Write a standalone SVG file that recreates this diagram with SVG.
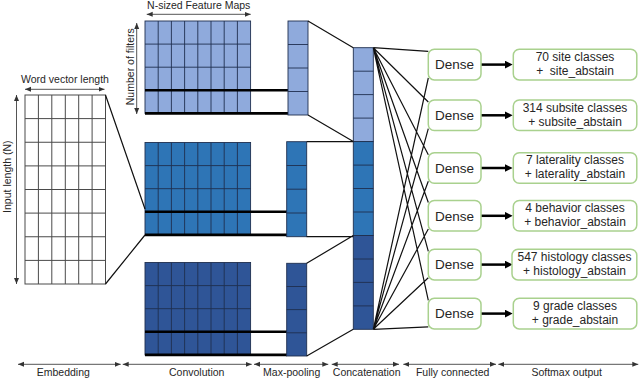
<svg xmlns="http://www.w3.org/2000/svg" width="640" height="381" viewBox="0 0 640 381">
<style>
text{font-family:"Liberation Sans",Arial,sans-serif;fill:#262626}
.lbl{font-size:10.5px;text-anchor:middle}
.dense{font-size:13.5px;text-anchor:middle}
.out{font-size:12px;text-anchor:middle}
.grid{fill:none;stroke:#4a4a4a;stroke-width:1}
.cell{stroke:#1f2f4f;stroke-width:0.9}
.l1{fill:#8faadc}.l2{fill:#2e75b6}.l3{fill:#2f5597}
.thick{stroke:#000;stroke-width:2.6;fill:none}
.conn{stroke:#111;stroke-width:1.2;fill:none}
.dim{stroke:#555;stroke-width:1;fill:none;marker-start:url(#dh);marker-end:url(#dh)}
.box{fill:#fff;stroke:#a9d18e;stroke-width:1.5}
.arr{stroke:#000;stroke-width:2.5;marker-end:url(#ah)}
</style>
<defs>
<marker id="dh" viewBox="0 0 6 6" refX="6" refY="3" markerWidth="6" markerHeight="6" markerUnits="userSpaceOnUse" orient="auto-start-reverse"><path d="M0,0.5 L6,3 L0,5.5z" fill="#333"/></marker>
<marker id="ah" viewBox="0 0 8 8" refX="2" refY="4" markerWidth="8" markerHeight="8" markerUnits="userSpaceOnUse" orient="auto"><path d="M0,0 L8,4 L0,8z" fill="#000"/></marker>
</defs>
<rect width="640" height="381" fill="#fff"/>

<g id="embedding">
<rect x="25" y="95" width="80.5" height="189" fill="#fff" stroke="#4a4a4a"/>
<path class="grid" d="M38.4,95V284M51.8,95V284M65.3,95V284M78.7,95V284M92.1,95V284M25,118.6H105.5M25,142.25H105.5M25,165.9H105.5M25,189.5H105.5M25,213.1H105.5M25,236.75H105.5M25,260.4H105.5"/>
</g>

<g id="conv-1">
<rect class="cell l1" x="145" y="21" width="105.6" height="92.4"/>
<path class="cell" d="M158.2,21V113.4M171.4,21V113.4M184.6,21V113.4M197.8,21V113.4M211,21V113.4M224.2,21V113.4M237.4,21V113.4M145,44.1H250.6M145,67.2H250.6"/>
<path class="thick" d="M145,90.3H288M145,113.4H288"/>
</g>
<g id="conv-2">
<rect class="cell l2" x="145" y="142.5" width="105.6" height="92.4"/>
<path class="cell" d="M158.2,142.5V234.9M171.4,142.5V234.9M184.6,142.5V234.9M197.8,142.5V234.9M211,142.5V234.9M224.2,142.5V234.9M237.4,142.5V234.9M145,165.6H250.6M145,188.7H250.6"/>
<path class="thick" d="M145,211.8H287M145,234.9H287"/>
</g>
<g id="conv-3">
<rect class="cell l3" x="145" y="262.5" width="105.6" height="92.4"/>
<path class="cell" d="M158.2,262.5V354.9M171.4,262.5V354.9M184.6,262.5V354.9M197.8,262.5V354.9M211,262.5V354.9M224.2,262.5V354.9M237.4,262.5V354.9M145,285.6H250.6M145,308.7H250.6"/>
<path class="thick" d="M145,331.8H287M145,354.9H287"/>
</g>

<g id="maxpool-1">
<rect class="cell l1" x="288" y="21" width="20" height="94"/>
<path class="cell" d="M288,44.5H308M288,68H308M288,91.5H308"/>
</g>
<g id="maxpool-2">
<rect class="cell l2" x="286.7" y="141.7" width="20" height="95"/>
<path class="cell" d="M286.7,165.5H306.7M286.7,189.2H306.7M286.7,213H306.7"/>
</g>
<g id="maxpool-3">
<rect class="cell l3" x="286.7" y="263.3" width="20" height="92.7"/>
<path class="cell" d="M286.7,286.5H306.7M286.7,309.6H306.7M286.7,332.8H306.7"/>
</g>

<g id="concat">
<rect class="cell l1" x="353.3" y="47.7" width="20" height="93.9"/>
<rect class="cell l2" x="353.3" y="141.6" width="20" height="93.9"/>
<rect class="cell l3" x="353.3" y="235.5" width="20" height="93.8"/>
<path class="cell" d="M353.3,71.2H373.3M353.3,94.6H373.3M353.3,118.1H373.3M353.3,165.1H373.3M353.3,188.5H373.3M353.3,212H373.3M353.3,259H373.3M353.3,282.4H373.3M353.3,305.9H373.3"/>
</g>

<g id="connectors">
<path class="conn" d="M105.5,95L145,209M105.5,284L145,235"/>
<path class="conn" d="M308,21L353.3,47.7M308,115L353.3,141.6M306.7,141.7H353.3M306.7,236.7H353.3M306.7,263.3L353.3,235.5M306.7,356L353.3,329.3"/>
<path class="conn" d="M373.3,47.7L428.3,51.3M373.3,47.7L428.3,102M373.3,47.7L428.3,154.7M373.3,47.7L428.3,202.5M373.3,47.7L428.3,251.3M373.3,47.7L428.3,300.3M373.3,329.3L428.3,78M373.3,329.3L428.3,128.7M373.3,329.3L428.3,181.2M373.3,329.3L428.3,229M373.3,329.3L428.3,277.8M373.3,329.3L428.3,326.8"/>
<line class="arr" x1="481" y1="64.6" x2="506.7" y2="64.6"/>
<line class="arr" x1="481" y1="115.3" x2="506.7" y2="115.3"/>
<line class="arr" x1="481" y1="168" x2="506.7" y2="168"/>
<line class="arr" x1="481" y1="215.8" x2="506.7" y2="215.8"/>
<line class="arr" x1="481" y1="264.6" x2="506.7" y2="264.6"/>
<line class="arr" x1="481" y1="313.6" x2="506.7" y2="313.6"/>
</g>

<g id="dense-1"><rect class="box" x="428.3" y="49.3" width="52.7" height="30.6" rx="6"/><text class="dense" x="454.6" y="69.3">Dense</text></g>
<g id="dense-2"><rect class="box" x="428.3" y="100" width="52.7" height="30.6" rx="6"/><text class="dense" x="454.6" y="120">Dense</text></g>
<g id="dense-3"><rect class="box" x="428.3" y="152.7" width="52.7" height="30.6" rx="6"/><text class="dense" x="454.6" y="172.7">Dense</text></g>
<g id="dense-4"><rect class="box" x="428.3" y="200.5" width="52.7" height="30.6" rx="6"/><text class="dense" x="454.6" y="220.5">Dense</text></g>
<g id="dense-5"><rect class="box" x="428.3" y="249.3" width="52.7" height="30.6" rx="6"/><text class="dense" x="454.6" y="269.3">Dense</text></g>
<g id="dense-6"><rect class="box" x="428.3" y="298.3" width="52.7" height="30.6" rx="6"/><text class="dense" x="454.6" y="318.3">Dense</text></g>

<g id="output-1"><rect class="box" x="513.3" y="49.3" width="123.5" height="30.6" rx="6"/><text class="out" x="575" y="61">70 site classes</text><text class="out" x="575" y="75" xml:space="preserve">+  site_abstain</text></g>
<g id="output-2"><rect class="box" x="513.3" y="100" width="123.5" height="30.6" rx="6"/><text class="out" x="575" y="111.7">314 subsite classes</text><text class="out" x="575" y="125.7">+ subsite_abstain</text></g>
<g id="output-3"><rect class="box" x="513.3" y="152.7" width="123.5" height="30.6" rx="6"/><text class="out" x="575" y="164.4">7 laterality classes</text><text class="out" x="575" y="178.4">+ laterality_abstain</text></g>
<g id="output-4"><rect class="box" x="513.3" y="200.5" width="123.5" height="30.6" rx="6"/><text class="out" x="575" y="212.2">4 behavior classes</text><text class="out" x="575" y="226.2">+ behavior_abstain</text></g>
<g id="output-5"><rect class="box" x="512" y="249.3" width="124.8" height="30.6" rx="6"/><text class="out" x="574.5" y="261">547 histology classes</text><text class="out" x="574.5" y="275">+ histology_abstain</text></g>
<g id="output-6"><rect class="box" x="513.3" y="298.3" width="123.5" height="30.6" rx="6"/><text class="out" x="575" y="310">9 grade classes</text><text class="out" x="575" y="324">+ grade_abstain</text></g>

<g id="dimensions">
<line class="dim" x1="146.7" y1="14.3" x2="250.7" y2="14.3"/>
<text class="lbl" x="198.7" y="8.5">N-sized Feature Maps</text>
<line class="dim" x1="25" y1="89.3" x2="104.5" y2="89.3"/>
<text class="lbl" x="65" y="83.3">Word vector length</text>
<line class="dim" x1="136.7" y1="23" x2="136.7" y2="114"/>
<text class="lbl" transform="translate(134.3,66.7) rotate(-90)">Number of filters</text>
<line class="dim" x1="16.5" y1="95" x2="16.5" y2="284"/>
<text class="lbl" transform="translate(11,176.7) rotate(-90)">Input length (N)</text>
<line class="dim" x1="18" y1="364.3" x2="120.7" y2="364.3"/>
<line class="dim" x1="122.7" y1="364.3" x2="251.7" y2="364.3"/>
<line class="dim" x1="254" y1="364.3" x2="328.3" y2="364.3"/>
<line class="dim" x1="331.7" y1="364.3" x2="399" y2="364.3"/>
<line class="dim" x1="403.3" y1="364.3" x2="496" y2="364.3"/>
<line class="dim" x1="498.3" y1="364.3" x2="638.3" y2="364.3"/>
<text class="lbl" x="63.3" y="376">Embedding</text>
<text class="lbl" x="196.7" y="375.5">Convolution</text>
<text class="lbl" x="291.7" y="376">Max-pooling</text>
<text class="lbl" x="366.7" y="375.5">Concatenation</text>
<text class="lbl" x="452.7" y="375.5">Fully connected</text>
<text class="lbl" x="566.7" y="376">Softmax output</text>
</g>
</svg>
